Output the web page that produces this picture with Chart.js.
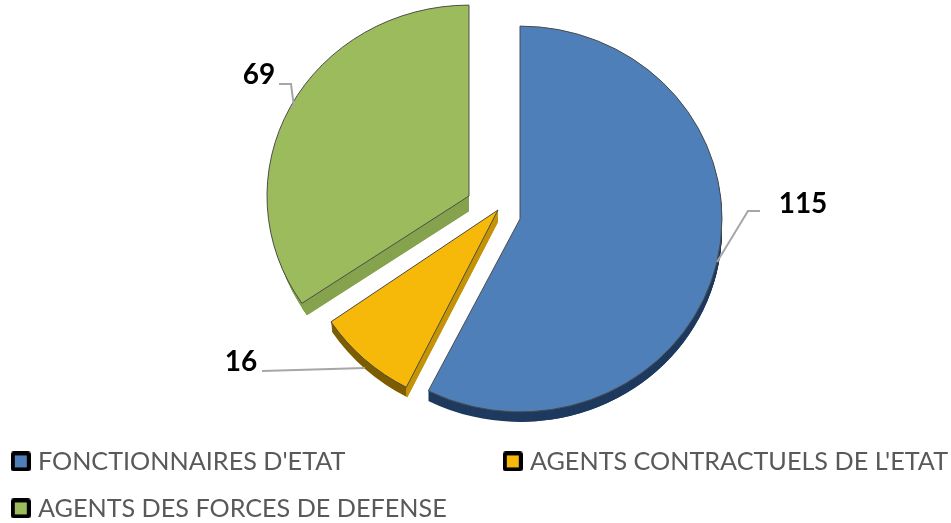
<!DOCTYPE html>
<html>
<head>
<meta charset="utf-8">
<style>
  html, body { margin: 0; padding: 0; background: #fff; overflow: hidden; }
  #wrap { width: 951px; height: 523px; overflow: hidden; }
</style>
<script src="https://cdn.jsdelivr.net/npm/chart.js@4"></script>
</head>
<body>
<!-- canvas is a bit wider than the page so the two legend columns fit on one row -->
<div id="wrap"><canvas id="pie" width="1100" height="523"></canvas></div>
<script>
// data
const categories = ["FONCTIONNAIRES D'ETAT", "AGENTS CONTRACTUELS DE L'ETAT", "AGENTS DES FORCES DE DEFENSE"];
const values = [115, 16, 69];
const topColors = ['#4f7fb8', '#f6b90a', '#9bbb5c'];

// look of the exploded slices: tip position, squash, extrusion
const sliceLook = [
    { tipX: 520, tipY: 219, sy: 0.955, dx: 0, dy: 10, arcSide: '#1f3a5f', flatSide: '#1f3a5f', clipRight: false },
    { tipX: 498, tipY: 210, sy: 0.985, dx: 1, dy: 10, arcSide: '#7d5e00', flatSide: '#dfa808', clipRight: true },
    { tipX: 469, tipY: 196, sy: 0.945, dx: 5, dy: 12, arcSide: '#86a34e', flatSide: '#86a34e', clipRight: true }
];

// leader lines and value labels
const leaders = [
    { pts: [[717, 262], [748, 211], [760, 211]], x: 803, y: 203.5 },
    { pts: [[365, 368], [262, 371]], x: 241, y: 362 },
    { pts: [[294, 107], [291, 84], [279, 84]], x: 259, y: 75 }
];

function withColor(arc, color, border) {
    const saved = arc.options;
    arc.options = Object.create(saved, {
        backgroundColor: { value: color },
        borderColor: { value: border },
        borderWidth: { value: border === 'transparent' ? 0 : saved.borderWidth }
    });
    return function() { arc.options = saved; };
}

function drawSide(ctx, arc, look, k, color, clipLeft) {
    const f = k / look.dy;
    ctx.save();
    ctx.beginPath();
    ctx.rect(clipLeft, 0, (look.clipRight ? look.tipX : 1100) - clipLeft, 523);
    ctx.clip();
    ctx.translate(look.tipX + look.dx * f, look.tipY + k);
    ctx.scale(1, look.sy);
    ctx.translate(-arc.x, -arc.y);
    const restore = withColor(arc, color, 'transparent');
    arc.draw(ctx);
    restore();
    ctx.restore();
}

const slicePlugin = {
    id: 'slices',
    beforeDatasetDraw(chart, args) {
        const ctx = chart.ctx;
        const arcs = chart.getDatasetMeta(args.index).data;
        arcs.forEach(function(arc, i) {
            const look = sliceLook[i];
            const cornerX = look.tipX + arc.outerRadius * Math.cos(arc.startAngle);
            // extruded side, drawn first
            for (let k = look.dy; k >= 1; k--) {
                drawSide(ctx, arc, look, k, look.arcSide, 0);
                drawSide(ctx, arc, look, k, look.flatSide, cornerX);
            }
            // top face
            ctx.save();
            ctx.translate(look.tipX, look.tipY);
            ctx.scale(1, look.sy);
            ctx.translate(-arc.x, -arc.y);
            arc.draw(ctx);
            ctx.restore();
        });
        return false;
    },
    afterDatasetsDraw(chart) {
        const ctx = chart.ctx;
        ctx.save();
        ctx.strokeStyle = '#a6a6a6';
        ctx.lineWidth = 2;
        ctx.fillStyle = '#000';
        ctx.font = 'bold 28px Lato';
        ctx.textAlign = 'center';
        ctx.textBaseline = 'middle';
        leaders.forEach(function(l, i) {
            ctx.beginPath();
            l.pts.forEach(function(p, j) {
                if (j === 0) ctx.moveTo(p[0], p[1]);
                else ctx.lineTo(p[0], p[1]);
            });
            ctx.stroke();
            ctx.fillText(String(values[i]), l.x, l.y);
        });
        ctx.restore();
    },
    afterLayout(chart) {
        // legend sits closer to the edges than its padding allows
        chart.legend.left = -5.5;
        chart.legend.top += 8;
    }
};

function legendMark(color) {
    const c = document.createElement('canvas');
    c.width = 20;
    c.height = 20;
    const g = c.getContext('2d');
    g.fillStyle = '#000';
    g.beginPath();
    g.roundRect(0, 0, 20, 20, 3);
    g.fill();
    g.fillStyle = color;
    g.fillRect(4, 4, 12, 12);
    return c;
}

const marks = topColors.map(legendMark);

new Chart(document.getElementById('pie'), {
    type: 'pie',
    data: {
        labels: categories,
        datasets: [{
            data: values,
            backgroundColor: topColors,
            borderColor: '#4a4a4a',
            borderWidth: 1,
            radius: 202
        }]
    },
    plugins: [slicePlugin],
    options: {
        responsive: false,
        animation: false,
        rotation: 0,
        plugins: {
            tooltip: { enabled: false },
            legend: {
                position: 'bottom',
                align: 'start',
                labels: {
                    color: '#595959',
                    font: { family: 'Lato', size: 25.2 },
                    padding: 21.8,
                    usePointStyle: true,
                    pointStyleWidth: 9,
                    generateLabels(chart) {
                        return categories.map(function(name, i) {
                            // the no-break spaces hold the two legend columns apart
                            const text = i === 0 ? name + '\u00a0'.repeat(22) : name;
                            return { text: text, pointStyle: marks[i], fontColor: '#595959', index: i };
                        });
                    }
                }
            }
        }
    }
});
</script>
</body>
</html>
